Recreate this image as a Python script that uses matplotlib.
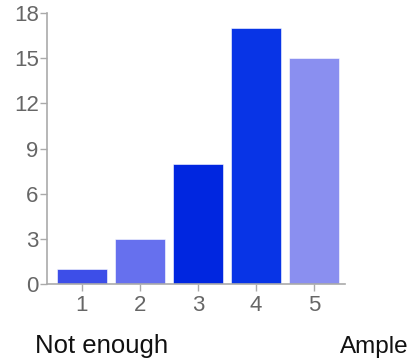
import matplotlib
matplotlib.use('Agg')
import matplotlib.pyplot as plt

# --- Data ---
categories = [1, 2, 3, 4, 5]
counts = [1, 3, 8, 17, 15]
bar_colors = ['#3d4ee8', '#6670ee', '#0026e0', '#0834e6', '#8a8ff0']
y_ticks = [0, 3, 6, 9, 12, 15, 18]
low_label = 'Not enough'
high_label = 'Ample'

plt.rcParams['font.family'] = ['Liberation Sans', 'DejaVu Sans']

fig = plt.figure(figsize=(4.16, 3.62), dpi=100)
ax = fig.add_axes([0.113, 0.2155, 0.716, 0.7485])

ax.bar(categories, counts, width=0.85, color=bar_colors,
       edgecolor='white', linewidth=0.4)

ax.set_xlim(0.4, 5.53)
ax.set_ylim(0, 18)
ax.set_xticks(categories)
ax.set_yticks(y_ticks)

for side in ['top', 'right']:
    ax.spines[side].set_visible(False)
for side in ['left', 'bottom']:
    ax.spines[side].set_color('#aaaaaa')
    ax.spines[side].set_linewidth(1.2)

ax.tick_params(axis='both', colors='#aaaaaa', length=5, width=1,
               labelcolor='#666666', labelsize=16)
ax.tick_params(axis='x', pad=3)
ax.tick_params(axis='y', pad=1)

# end labels of the scale, below the axis
fig.text(0.084, 0.025, low_label, fontsize=18.5, color='#111111', ha='left', va='baseline')
fig.text(0.983, 0.025, high_label, fontsize=17.5, color='#111111', ha='right', va='baseline')

fig.savefig('out.png', dpi=100)
